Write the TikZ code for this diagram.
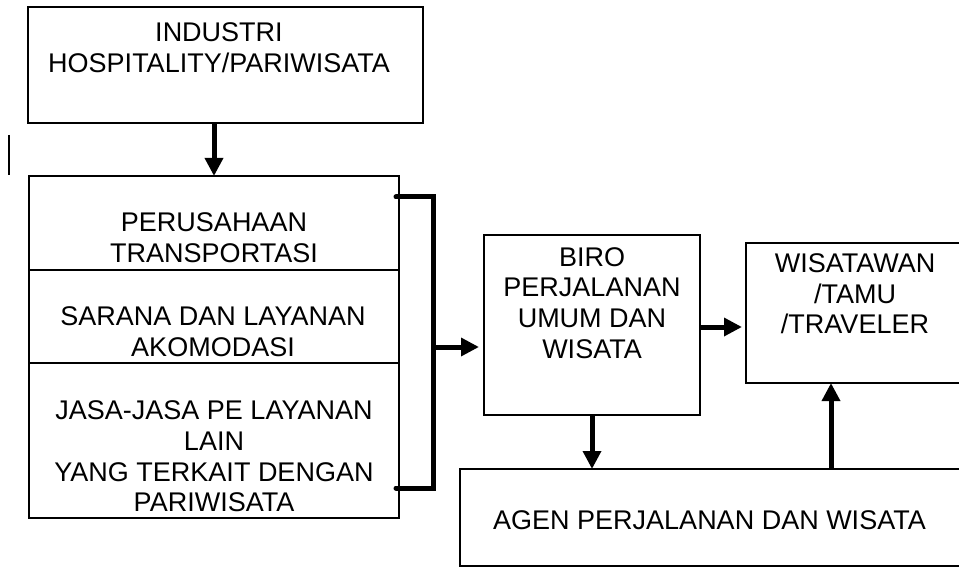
\documentclass[tikz,border=0pt]{standalone}
\usepackage{fontspec}
\setmainfont{Liberation Sans}
\usetikzlibrary{arrows.meta,positioning}

\begin{document}
\begin{tikzpicture}[x=0.5pt,y=-0.5pt,>={Triangle[length=9pt,width=8.8pt]},
  node distance=0pt,
  box/.style={draw,line width=0.85pt,outer sep=0pt,inner sep=0pt},
  part/.style={draw,line width=1.1pt,outer sep=0pt,inner sep=0pt,minimum width=185pt},
  txt/.style={align=center,inner sep=0pt},
  arr/.style={->,line width=2.5pt},
  every node/.style={font=\fontsize{13.5}{15.35}\selectfont}]
\useasboundingbox (0,0) rectangle (959,567);
% stray mark in the left margin
\draw[line width=0.65pt] (9,135) -- (9,175);
\node[box,minimum width=197.5pt,minimum height=58pt] (indus) at (225.5,65) {};
\node[txt] (tindus) at (219,48) {INDUSTRI\\HOSPITALITY/PARIWISATA};
% stacked left column
\node[part,minimum height=47pt] (sec1) at (214,223) {};
\node[part,minimum height=46.5pt,below=of sec1] (sec2) {};
\node[part,minimum height=77.5pt,below=of sec2] (sec3) {};
\node[txt] (tsec1) at (214,237.5) {PERUSAHAAN\\TRANSPORTASI};
\node[txt] (tsec2) at (213,331.5) {SARANA DAN LAYANAN\\AKOMODASI};
\node[txt] (tsec3) at (214,456.5) {JASA-JASA PE LAYANAN\\LAIN\\YANG TERKAIT DENGAN\\PARIWISATA};
% right side
\node[box,minimum width=108pt,minimum height=90pt] (biro) at (592,325) {};
\node[txt] (tbiro) at (592,303) {BIRO\\PERJALANAN\\UMUM DAN\\WISATA};
\node[box,minimum width=109pt,minimum height=70pt] (wisat) at (855,313) {};
\node[txt] (twisat) at (855,294) {WISATAWAN\\/TAMU\\/TRAVELER};
\node[box,minimum width=252pt,minimum height=48.5pt] (agen) at (712,517.5) {};
\node[txt] (tagen) at (709.5,520) {AGEN PERJALANAN DAN WISATA};
% bracket and arrows
\coordinate (brtop) at (396,197);
\coordinate (brbot) at (396,488);
\coordinate (brmid) at (433,347);
\draw[line width=2.5pt,line cap=round] (brtop) -| (brmid) |- (brbot);
\draw[arr] (indus.south -| sec1.north) -- (sec1.north);
\draw[arr,shorten >=2.5pt] (brmid) -- (brmid -| biro.west);
\draw[arr,shorten >=2pt] ([yshift=-1pt]biro.east) -- ([yshift=-1pt]biro.east -| wisat.west);
\draw[arr] (biro.south) -- (biro.south |- agen.north);
\draw[arr] ([xshift=-12pt]wisat.south |- agen.north) -- ([xshift=-12pt]wisat.south);
\end{tikzpicture}
\end{document}
